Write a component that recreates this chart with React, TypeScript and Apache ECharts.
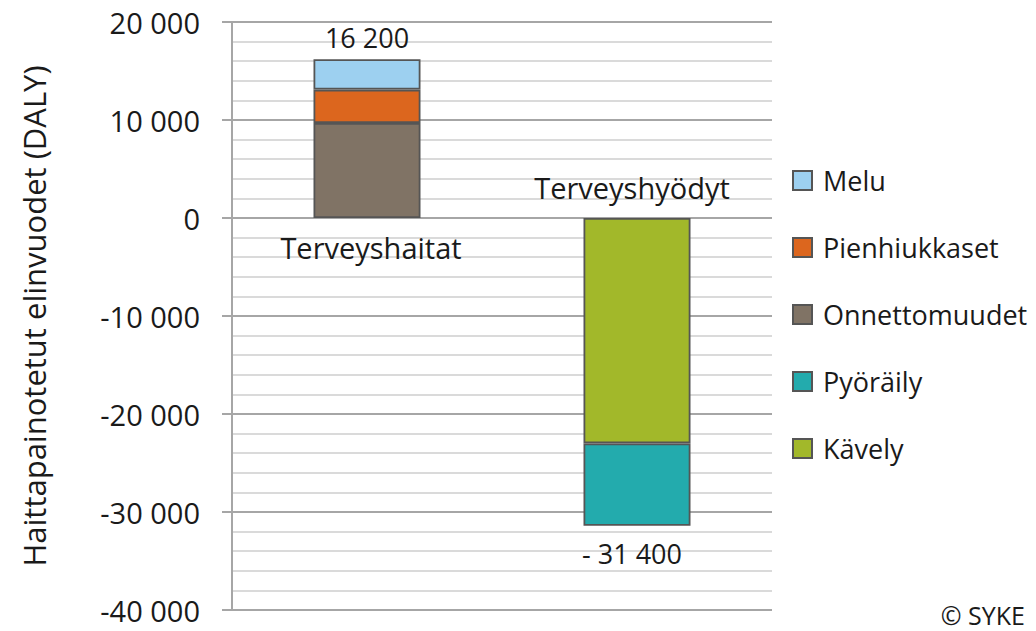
import React, { useEffect, useRef } from "react";
import * as echarts from "echarts";

const categories = ["Terveyshaitat", "Terveyshyödyt"];
const onnettomuudet = [9700, null];
const pienhiukkaset = [3400, null];
const melu = [3100, null];
const kavely = [null, -23000];
const pyoraily = [null, -8400];
const legendOrder = ["Melu", "Pienhiukkaset", "Onnettomuudet", "Pyöräily", "Kävely"];
const yTicks = { min: -40000, max: 20000, interval: 10000 };

const FONT = "Open Sans";
const TXT = "#1a1a1a";

function groupThousands(v: number): string {
  return Math.abs(v).toString().replace(/\B(?=(\d{3})+(?!\d))/g, " ");
}

export default function App() {
  const ref = useRef<HTMLDivElement>(null);
  useEffect(() => {
    if (!ref.current) return;
    const chart = echarts.init(ref.current, null, { renderer: "svg" });
    const totals = categories.map((_, i) => {
      const vals = [onnettomuudet[i], pienhiukkaset[i], melu[i], kavely[i], pyoraily[i]].filter(
        (v) => v != null
      ) as number[];
      return vals.reduce((a, b) => a + b, 0);
    });
    const border = { borderColor: "#555555", borderWidth: 1.8 };
    const barBase = { type: "bar", stack: "s", barWidth: 107, silent: true };
    const labelScatter = {
      type: "scatter",
      silent: true,
      symbolSize: 1,
      itemStyle: { color: "transparent", opacity: 1 },
    };
    chart.setOption({
      animation: false,
      textStyle: { fontFamily: FONT },
      grid: { left: 232, right: 264, top: 22, bottom: 21, containLabel: false },
      xAxis: {
        type: "category",
        data: categories,
        axisLine: { show: false },
        axisTick: { show: false },
        axisLabel: { show: false },
        splitLine: { show: false },
      },
      yAxis: {
        type: "value",
        min: yTicks.min,
        max: yTicks.max,
        interval: yTicks.interval,
        name: "Haittapainotetut elinvuodet (DALY)",
        nameLocation: "middle",
        nameRotate: 90,
        nameGap: 183,
        nameTextStyle: { fontFamily: FONT, fontSize: 31, color: TXT },
        axisLine: { show: true, lineStyle: { color: "#a6a6a6", width: 2 } },
        axisTick: { show: true, inside: false, length: 10, lineStyle: { color: "#a6a6a6", width: 2 } },
        axisLabel: {
          margin: 32,
          fontFamily: FONT,
          fontSize: 29,
          color: TXT,
          formatter: (v: number) => (v < 0 ? "-" : "") + groupThousands(v),
        },
        splitLine: { show: true, lineStyle: { color: "#a6a6a6", width: 2 } },
        minorTick: { show: false, splitNumber: 5 },
        minorSplitLine: { show: true, lineStyle: { color: "#dadada", width: 2 } },
      },
      legend: {
        orient: "vertical",
        left: 792,
        top: 167,
        padding: 0,
        itemWidth: 19,
        itemHeight: 19,
        itemGap: 40,
        icon: "rect",
        data: legendOrder,
        selectedMode: false,
        textStyle: { fontFamily: FONT, fontSize: 27, color: TXT, lineHeight: 27, padding: [0, 0, 0, 6] },
      },
      series: [
        { ...barBase, name: "Onnettomuudet", data: onnettomuudet, itemStyle: { color: "#807365", ...border } },
        { ...barBase, name: "Pienhiukkaset", data: pienhiukkaset, itemStyle: { color: "#dc661e", ...border } },
        { ...barBase, name: "Melu", data: melu, itemStyle: { color: "#9dd0f0", ...border } },
        { ...barBase, name: "Kävely", data: kavely, itemStyle: { color: "#a2b82a", ...border } },
        { ...barBase, name: "Pyöräily", data: pyoraily, itemStyle: { color: "#23abad", ...border } },
        {
          ...labelScatter,
          name: "totals",
          label: {
            show: true,
            fontFamily: FONT,
            fontSize: 27,
            lineHeight: 30,
            color: TXT,
            opacity: 1,
            formatter: (p: any) => (p.value < 0 ? "- " : "") + groupThousands(p.value),
          },
          data: [
            { value: totals[0], label: { position: "top", distance: 6 } },
            { value: totals[1], label: { position: "bottom", distance: 12, offset: [-5, 0] } },
          ],
        },
        {
          ...labelScatter,
          name: "categories",
          label: {
            show: true,
            fontFamily: FONT,
            fontSize: 29,
            lineHeight: 30,
            color: TXT,
            opacity: 1,
            formatter: (p: any) => p.name,
          },
          data: [
            { value: 0, label: { position: "bottom", distance: 14, offset: [4, 0] } },
            { value: 0, label: { position: "top", distance: 15, offset: [-5, 0] } },
          ],
        },
      ],
      graphic: [
        {
          type: "text",
          right: 11,
          top: 601,
          style: { text: "© SYKE", fontFamily: FONT, fontSize: 25, lineHeight: 28, fill: TXT },
        },
      ],
    });
    return () => chart.dispose();
  }, []);
  return (
    <div
      ref={ref}
      style={{ position: "absolute", left: 0, top: 0, width: 1036, height: 631, background: "#fff" }}
    />
  );
}
